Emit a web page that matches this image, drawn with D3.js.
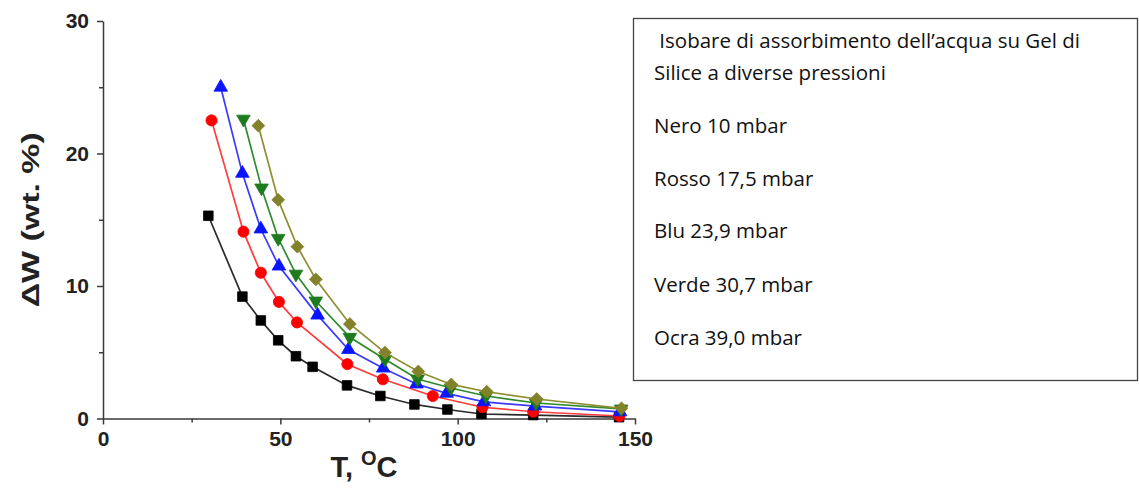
<!DOCTYPE html>
<html>
<head>
<meta charset="utf-8">
<script src="https://cdn.jsdelivr.net/npm/d3@7"></script>
<style>
  body { margin: 0; background: #fff; }
  svg { display: block; }
</style>
</head>
<body>
<svg id="chart" width="1139" height="491"></svg>
<script>
// Water uptake isobars on silica gel: temperature (°C) vs ΔW (wt. %)
const tNero  = [29.7, 39.3, 44.5, 49.4, 54.4, 59.1, 68.8, 78.2, 87.8, 97.1, 106.7, 121.3, 145.5];
const wNero  = [15.3, 9.2, 7.4, 5.9, 4.7, 3.9, 2.5, 1.7, 1.06, 0.68, 0.34, 0.26, 0.1];

const tRosso = [30.6, 39.6, 44.5, 49.6, 54.7, 68.9, 78.9, 93.0, 107.0, 121.3, 145.6];
const wRosso = [22.5, 14.1, 11.0, 8.8, 7.25, 4.1, 2.96, 1.7, 0.85, 0.51, 0.19];

const tBlu   = [33.2, 39.3, 44.5, 49.6, 60.5, 69.2, 79.0, 88.4, 96.9, 107.4, 121.8, 145.8];
const wBlu   = [25.0, 18.5, 14.3, 11.5, 7.8, 5.2, 3.8, 2.6, 1.9, 1.25, 0.94, 0.5];

const tVerde = [39.6, 44.7, 49.4, 54.4, 60.0, 69.6, 79.5, 88.7, 98.1, 108.0, 122.1, 146.1];
const wVerde = [22.6, 17.4, 13.6, 10.9, 8.87, 6.13, 4.47, 2.98, 2.3, 1.7, 1.17, 0.72];

const tOcra  = [43.8, 49.4, 54.8, 60.0, 69.6, 79.5, 88.9, 98.2, 108.2, 122.3, 146.2];
const wOcra  = [22.1, 16.5, 12.97, 10.5, 7.13, 4.97, 3.55, 2.57, 2.02, 1.47, 0.77];

const xTicks = [0, 50, 100, 150];
const xMinorTicks = [25, 75, 125];
const yTicks = [0, 10, 20, 30];
const yMinorTicks = [5, 15, 25];

const legendLines = [
  " Isobare di assorbimento dell\u2019acqua su Gel di",
  "Silice a diverse pressioni",
  "Nero 10 mbar",
  "Rosso 17,5 mbar",
  "Blu 23,9 mbar",
  "Verde 30,7 mbar",
  "Ocra 39,0 mbar"
];

const series = [
  { t: tNero,  w: wNero,  line: "#2a2a2a", fill: "#000000", shape: "square" },
  { t: tRosso, w: wRosso, line: "#ff3b3b", fill: "#ff0000", shape: "circle" },
  { t: tBlu,   w: wBlu,   line: "#3a3aff", fill: "#0a14ff", shape: "up" },
  { t: tVerde, w: wVerde, line: "#2f8a2f", fill: "#1d7a1d", shape: "down" },
  { t: tOcra,  w: wOcra,  line: "#8e8e30", fill: "#82822a", shape: "diamond" }
];

const svg = d3.select("#chart");

const x = d3.scaleLinear().domain([0, 150]).range([103, 635]);
const y = d3.scaleLinear().domain([0, 30]).range([418.5, 21]);

const axisColor = "#3a3a3a";
const tickFont = "'Liberation Sans', Arial, sans-serif";

// x axis
const gx = svg.append("g").attr("transform", `translate(0,${y(0)})`);
gx.call(d3.axisBottom(x).tickValues(xTicks).tickSize(6).tickSizeOuter(0).tickPadding(7));
gx.append("g").call(d3.axisBottom(x).tickValues(xMinorTicks).tickSize(4).tickFormat(""))
  .select(".domain").remove();

// y axis
const gy = svg.append("g").attr("transform", `translate(${x(0)},0)`);
gy.call(d3.axisLeft(y).tickValues(yTicks).tickSize(6).tickSizeOuter(0).tickPadding(8));
gy.append("g").call(d3.axisLeft(y).tickValues(yMinorTicks).tickSize(4).tickFormat(""))
  .select(".domain").remove();

svg.selectAll(".domain, .tick line").attr("stroke", axisColor).attr("stroke-width", 1.5);
svg.selectAll(".tick text")
  .attr("font-family", tickFont)
  .attr("font-weight", "bold")
  .attr("font-size", 21)
  .attr("fill", "#222");

// axis titles
svg.append("text")
  .attr("transform", `translate(39,${(y(0) + y(30)) / 2}) rotate(-90)`)
  .attr("text-anchor", "middle")
  .attr("font-family", tickFont)
  .attr("font-weight", "bold")
  .attr("font-size", 24)
  .attr("fill", "#222")
  .attr("textLength", 175)
  .attr("lengthAdjust", "spacingAndGlyphs")
  .text("\u0394W (wt. %)");

const xTitle = svg.append("text")
  .attr("x", 364)
  .attr("y", 477)
  .attr("text-anchor", "middle")
  .attr("font-family", tickFont)
  .attr("font-weight", "bold")
  .attr("font-size", 29)
  .attr("fill", "#222");
xTitle.append("tspan").text("T, ");
xTitle.append("tspan").attr("font-size", 20).attr("dy", -12).text("O");
xTitle.append("tspan").attr("dy", 12).text("C");

// series: connecting lines, then markers
const line = d3.line().x(d => x(d[0])).y(d => y(d[1]));

function markerPath(shape) {
  switch (shape) {
    case "square":  return d3.symbol(d3.symbolSquare, 92)();
    case "circle":  return d3.symbol(d3.symbolCircle, 98)();
    case "up":      return d3.symbol(d3.symbolTriangle, 80)();
    case "down":    return d3.symbol(d3.symbolTriangle, 80)();
    case "diamond": return d3.symbol(d3.symbolSquare, 82)();
  }
}
function markerRotation(shape) {
  if (shape === "down") return 180;
  if (shape === "diamond") return 45;
  return 0;
}

series.forEach(s => {
  const pts = s.t.map((t, i) => [t, s.w[i]]);
  const g = svg.append("g");
  g.append("path")
    .datum(pts)
    .attr("d", line)
    .attr("fill", "none")
    .attr("stroke", s.line)
    .attr("stroke-width", 1.7);
  g.selectAll("path.mk")
    .data(pts)
    .join("path")
    .attr("class", "mk")
    .attr("d", markerPath(s.shape))
    .attr("transform", d => `translate(${x(d[0])},${y(d[1])}) rotate(${markerRotation(s.shape)})`)
    .attr("fill", s.fill)
    .attr("stroke", s.fill)
    .attr("stroke-width", 0.8);
});

// legend box with text
svg.append("rect")
  .attr("x", 633.5).attr("y", 18.5)
  .attr("width", 504).attr("height", 362)
  .attr("fill", "#fff")
  .attr("stroke", "#444")
  .attr("stroke-width", 1.3);

const baselines = [48, 80, 133, 186, 238, 291.5, 345];
svg.append("g")
  .selectAll("text")
  .data(legendLines)
  .join("text")
  .attr("x", 654)
  .attr("y", (d, i) => baselines[i])
  .attr("font-family", "'Open Sans', Lato, sans-serif")
  .attr("font-size", 20.5)
  .attr("fill", "#111")
  .attr("xml:space", "preserve")
  .style("white-space", "pre")
  .text(d => d);
</script>
</body>
</html>
